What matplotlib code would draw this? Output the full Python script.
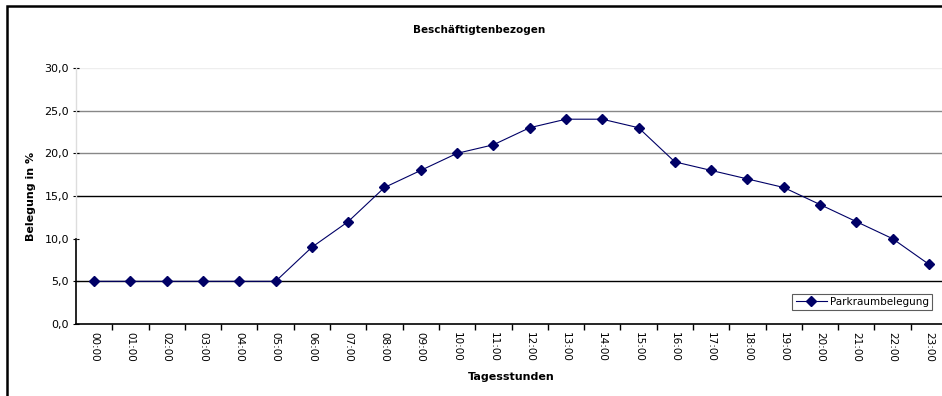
import numpy as np
import matplotlib.pyplot as plt
from matplotlib.patches import Rectangle

# data
hours = [f"{h:02d}:00" for h in range(24)]
belegung = [5, 5, 5, 5, 5, 5, 9, 12, 16, 18, 20, 21, 23, 24, 24, 23, 19, 18, 17, 16, 14, 12, 10, 7]
y_ticks = [0, 5, 10, 15, 20, 25, 30]
y_labels = ["0,0", "5,0", "10,0", "15,0", "20,0", "25,0", "30,0"]

navy = '#000066'

fig = plt.figure(figsize=(9.42, 3.96), dpi=100)
# plot area runs a little past the right edge of the picture
ax = fig.add_axes([76 / 942, 1 - 324 / 396, 871 / 942, (324 - 68) / 396])

x = np.arange(len(hours))

# grid lines as they appear (different shades in the scan)
grid_colors = {5: '#000000', 10: None, 15: '#000000', 20: '#888888', 25: '#888888', 30: '#eeeeee'}
for yv, c in grid_colors.items():
    if c:
        ax.axhline(yv, color=c, linewidth=1.0, zorder=1)

ax.plot(x, belegung, color=navy, linewidth=0.8, marker='D', markersize=4.6,
        markerfacecolor=navy, markeredgecolor=navy, label='Parkraumbelegung', zorder=3)

ax.set_xlim(-0.5, 23.5)
ax.set_ylim(0, 30)
ax.set_yticks(y_ticks)
ax.set_yticklabels(y_labels, fontsize=8)
ax.set_xticks(x)
ax.set_xticklabels(hours, rotation=270, fontsize=7.5)
ax.tick_params(axis='x', length=0, pad=6)
ax.set_xticks(np.arange(0.5, 23.5, 1), minor=True)
ax.tick_params(axis='x', which='minor', length=4, direction='out', width=1)
ax.tick_params(axis='y', length=4, direction='inout', width=0.8, pad=3)

for s in ['top', 'right']:
    ax.spines[s].set_visible(False)
ax.spines['left'].set_bounds(0, 10)
ax.spines['left'].set_linewidth(1.2)
ax.spines['bottom'].set_linewidth(1.2)
ax.axvline(-0.5, ymin=10 / 30, ymax=1, color='#dddddd', linewidth=1, clip_on=False)

ax.set_ylabel('Belegung in %', fontsize=8, fontweight='bold', labelpad=6)
ax.set_xlabel('Tagesstunden', fontsize=8, fontweight='bold', labelpad=7)
fig.text(479 / 942, 1 - 30 / 396, 'Beschäftigtenbezogen', fontsize=7.5, fontweight='bold',
         ha='center', va='center')

leg = ax.legend(loc='lower right', bbox_to_anchor=((932 - 76) / 871, 0.055), fontsize=7.5,
                frameon=True, fancybox=False, edgecolor='#333333', handlelength=3,
                borderpad=0.3, handletextpad=0.3, borderaxespad=0)
leg.get_frame().set_linewidth(0.8)

# outer chart frame
fig.patches.append(Rectangle((7 / 942, -0.02), 1.0, 1 - 6 / 396 + 0.02, transform=fig.transFigure,
                             fill=False, edgecolor='black', linewidth=1.8))

fig.savefig('out.png', dpi=100)
